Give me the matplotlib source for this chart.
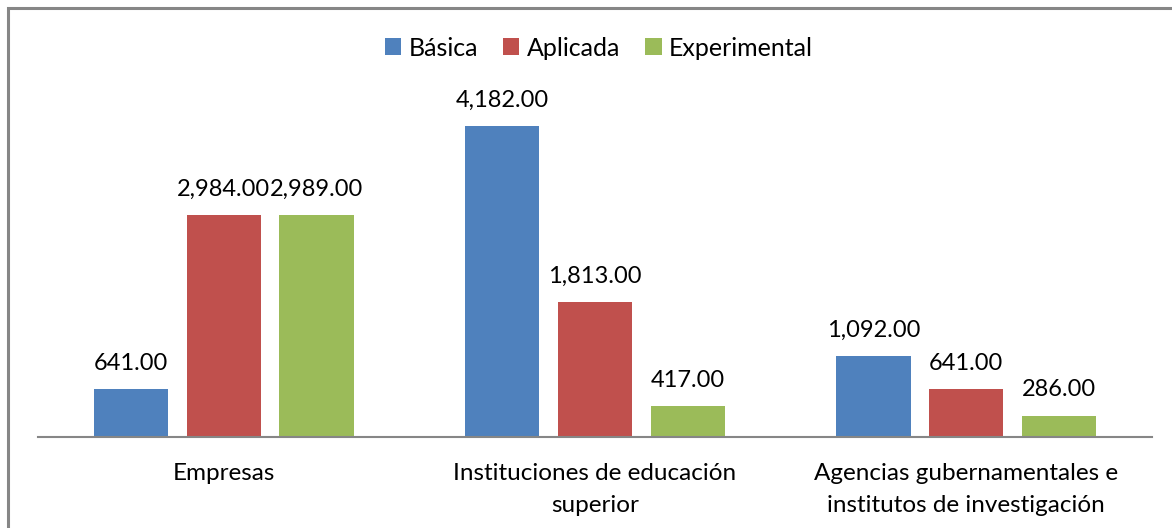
import numpy as np
import matplotlib.pyplot as plt
from matplotlib.patches import Rectangle

plt.rcParams['font.family'] = ['Lato', 'DejaVu Sans']

categorias = ['Empresas', 'Instituciones de educación\nsuperior',
              'Agencias gubernamentales e\ninstitutos de investigación']
series = ['Básica', 'Aplicada', 'Experimental']
basica = [641, 4182, 1092]
aplicada = [2984, 1813, 641]
experimental = [2989, 417, 286]
colores = ['#4F81BD', '#C0504D', '#9BBB59']

fig = plt.figure(figsize=(11.72, 5.28), dpi=100)
ax = fig.add_axes([38 / 1172, 0.1723, 1114 / 1172, 0.806 - 0.1723])

x = np.arange(len(categorias))
ancho = 0.2
paso = 0.25
for i, (nombre, vals) in enumerate(zip(series, [basica, aplicada, experimental])):
    pos = x + (i - 1) * paso
    bars = ax.bar(pos, vals, ancho, color=colores[i], label=nombre)
    for b, v in zip(bars, vals):
        ax.annotate(f'{v:,.2f}', (b.get_x() + b.get_width() / 2, v),
                    xytext=(0, 11), textcoords='offset points',
                    ha='center', va='bottom', fontsize=17)

ax.set_xlim(-0.5, 2.5)
ax.set_ylim(0, 4500)
ax.set_yticks([])
for s in ['top', 'right', 'left']:
    ax.spines[s].set_visible(False)
ax.spines['bottom'].set_color('#868686')
ax.spines['bottom'].set_linewidth(1.5)
ax.set_xticks(x)
ax.set_xticklabels(categorias, fontsize=17.5, linespacing=1.6)
ax.tick_params(axis='x', length=0, pad=19)

ax.legend(loc='center', bbox_to_anchor=(599 / 1172, 480 / 528), bbox_transform=fig.transFigure,
          ncol=3, frameon=False, fontsize=18, handlelength=0.65, handleheight=0.65,
          handletextpad=0.3, columnspacing=1.0)

fig.patches.append(Rectangle((8 / 1172, -0.1), 1.2, 1 - 8 / 528 + 0.1,
                             transform=fig.transFigure, fill=False,
                             edgecolor='#868686', linewidth=2.2))

fig.savefig('out.png', dpi=100)
